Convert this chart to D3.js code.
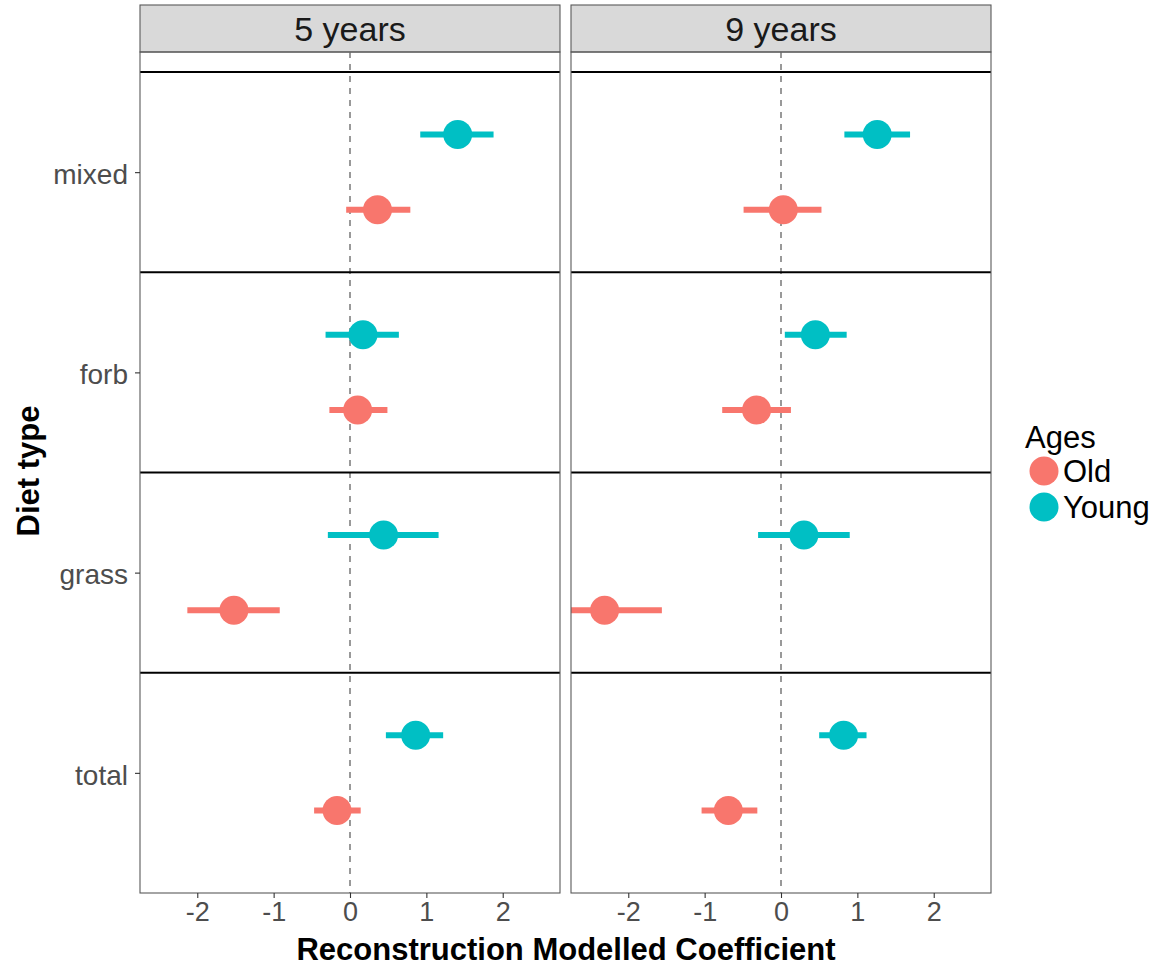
<!DOCTYPE html>
<html><head><meta charset="utf-8">
<script src="https://cdn.jsdelivr.net/npm/d3@7/dist/d3.min.js"></script>
<style>body{margin:0;background:#fff;} svg{display:block;font-family:Arial,"Liberation Sans",sans-serif;}</style>
</head><body>
<svg id="c" width="1165" height="968"></svg>
<script>
const panels = ["5 years", "9 years"];
const categories = ["total", "grass", "forb", "mixed"];
const ages = ["Old", "Young"];
const colors = ["#F8766D", "#00BFC4"];
const xTicks = [-2, -1, 0, 1, 2];
const separators = [1.5, 2.5, 3.5, 4.5];
// estimate, lower, upper per panel, per category (order of categories), per age
const est5Old   = [-0.17, -1.52, 0.10, 0.36];
const lo5Old    = [-0.47, -2.13, -0.27, -0.05];
const hi5Old    = [0.14, -0.92, 0.49, 0.79];
const est5Young = [0.86, 0.44, 0.17, 1.41];
const lo5Young  = [0.47, -0.29, -0.32, 0.92];
const hi5Young  = [1.22, 1.16, 0.64, 1.88];
const est9Old   = [-0.69, -2.31, -0.32, 0.03];
const lo9Old    = [-1.04, -2.95, -0.77, -0.49];
const hi9Old    = [-0.31, -1.56, 0.13, 0.53];
const est9Young = [0.82, 0.30, 0.45, 1.26];
const lo9Young  = [0.50, -0.30, 0.05, 0.83];
const hi9Young  = [1.12, 0.90, 0.86, 1.69];

const data = [];
const tbl = {"5 years": {Old:[est5Old,lo5Old,hi5Old], Young:[est5Young,lo5Young,hi5Young]},
             "9 years": {Old:[est9Old,lo9Old,hi9Old], Young:[est9Young,lo9Young,hi9Young]}};
panels.forEach(p => ages.forEach(a => categories.forEach((c,i) => {
  const t = tbl[p][a];
  data.push({panel:p, age:a, cat:c, est:t[0][i], lo:t[1][i], hi:t[2][i]});
})));

const svg = d3.select("#c");
const FONT = "Arial,'Liberation Sans',sans-serif";
const panelX = [140, 571];
const panelW = 420;
const stripTop = 5, stripH = 47;
const plotTop = 52, plotBot = 893;

const y = d3.scaleLinear().domain([4.6, 0.4]).range([plotTop, plotBot]);
const dodge = 0.1875;
const color = d3.scaleOrdinal().domain(ages).range(colors);

panels.forEach((p, pi) => {
  const x0 = panelX[pi];
  const x = d3.scaleLinear().domain([-2.75, 2.75]).range([x0, x0 + panelW]);
  const g = svg.append("g");
  // strip
  g.append("rect").attr("x", x0).attr("y", stripTop).attr("width", panelW).attr("height", stripH)
    .attr("fill", "#d9d9d9").attr("stroke", "#595959").attr("stroke-width", 1.1);
  g.append("text").attr("x", x0 + panelW/2).attr("y", stripTop + stripH/2 + 12)
    .attr("text-anchor", "middle").attr("font-size", 34).attr("fill", "#1a1a1a").text(p);
  // clip
  const cid = "clip" + pi;
  svg.append("clipPath").attr("id", cid).append("rect")
    .attr("x", x0).attr("y", plotTop).attr("width", panelW).attr("height", plotBot - plotTop);
  const pg = g.append("g").attr("clip-path", `url(#${cid})`);
  // vline at 0
  pg.append("line").attr("x1", x(0)).attr("x2", x(0)).attr("y1", plotTop).attr("y2", plotBot)
    .attr("stroke", "#808080").attr("stroke-width", 1.6).attr("stroke-dasharray", "6,6");
  // separators
  pg.selectAll("line.sep").data(separators).join("line").attr("class", "sep")
    .attr("x1", x0).attr("x2", x0 + panelW).attr("y1", d => y(d)).attr("y2", d => y(d))
    .attr("stroke", "#000").attr("stroke-width", 2);
  const pd = data.filter(d => d.panel === p);
  const yy = d => y(categories.indexOf(d.cat) + 1 + (d.age === "Young" ? dodge : -dodge));
  pg.selectAll("line.ci").data(pd).join("line").attr("class", "ci")
    .attr("x1", d => x(d.lo)).attr("x2", d => x(d.hi)).attr("y1", yy).attr("y2", yy)
    .attr("stroke", d => color(d.age)).attr("stroke-width", 6);
  pg.selectAll("circle").data(pd).join("circle")
    .attr("cx", d => x(d.est)).attr("cy", yy).attr("r", 14.5).attr("fill", d => color(d.age));
  // panel border
  g.append("rect").attr("x", x0).attr("y", plotTop).attr("width", panelW).attr("height", plotBot - plotTop)
    .attr("fill", "none").attr("stroke", "#595959").attr("stroke-width", 1.1);
  // x axis
  const xa = g.append("g").attr("transform", `translate(0,${plotBot})`)
    .call(d3.axisBottom(x).tickValues(xTicks).tickSize(5).tickPadding(4).tickFormat(d => String(d)));
  xa.select(".domain").remove();
  xa.selectAll("line").attr("stroke", "#333").attr("stroke-width", 1.1);
  xa.selectAll("text").attr("font-size", 27).attr("fill", "#4d4d4d").attr("font-family", FONT);
  if (pi === 0) {
    const ya = g.append("g").attr("transform", `translate(${x0},0)`)
      .call(d3.axisLeft(y).tickValues([1,2,3,4]).tickSize(5).tickPadding(7).tickFormat(d => categories[d-1]));
    ya.select(".domain").remove();
    ya.selectAll("line").attr("stroke", "#333").attr("stroke-width", 1.1);
    ya.selectAll("text").attr("font-size", 28).attr("fill", "#4d4d4d").attr("font-family", FONT)
      .attr("dy", "0.4em");
  }
});

// axis titles
svg.append("text").attr("x", 566).attr("y", 960).attr("text-anchor", "middle")
  .attr("font-size", 31).attr("font-weight", "bold").attr("fill", "#000").text("Reconstruction Modelled Coefficient");
svg.append("text").attr("transform", "translate(39,471) rotate(-90)").attr("text-anchor", "middle")
  .attr("font-size", 31).attr("font-weight", "bold").attr("fill", "#000").text("Diet type");

// legend
const lg = svg.append("g");
lg.append("text").attr("x", 1025).attr("y", 448).attr("font-size", 31).attr("fill", "#000").text("Ages");
ages.forEach((a, i) => {
  lg.append("circle").attr("cx", 1044).attr("cy", 471 + i*36).attr("r", 14.5).attr("fill", color(a));
  lg.append("text").attr("x", 1063).attr("y", 482 + i*36).attr("font-size", 31).attr("fill", "#000").text(a);
});
</script>
</body></html>
